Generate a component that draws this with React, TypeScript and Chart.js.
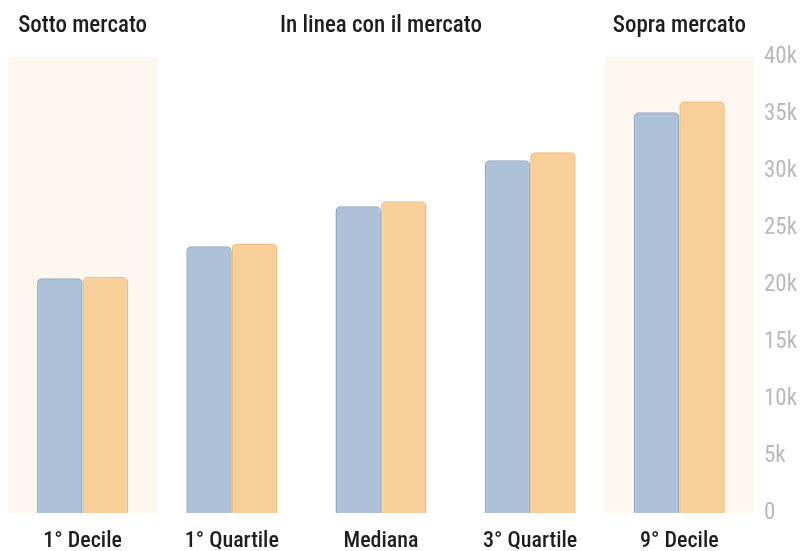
import React, { useEffect, useRef } from "react";
import { Chart, registerables } from "chart.js";

Chart.register(...registerables);

const categories = ["1° Decile", "1° Quartile", "Mediana", "3° Quartile", "9° Decile"];
const seriesA = [20600, 23400, 26900, 30950, 35150];
const seriesB = [20700, 23650, 27350, 31650, 36100];
const yTicks = [0, 5000, 10000, 15000, 20000, 25000, 30000, 35000, 40000];
const groupLabels = ["Sotto mercato", "In linea con il mercato", "Sopra mercato"];
const groupStart = [0, 1, 4];
const groupEnd = [0, 3, 4];
const groupShaded = [true, false, true];

const FONT = "'Roboto Condensed', 'Liberation Sans Narrow', 'Arial Narrow', Roboto, sans-serif";

const groupsPlugin = {
  id: "groups",
  beforeDatasetsDraw(chart: any) {
    const { ctx, chartArea, scales } = chart;
    const x = scales.x;
    const half = (x.getPixelForValue(1) - x.getPixelForValue(0)) / 2;
    ctx.save();
    groupLabels.forEach((_, i) => {
      if (!groupShaded[i]) return;
      const l = x.getPixelForValue(groupStart[i]) - half;
      const r = x.getPixelForValue(groupEnd[i]) + half;
      ctx.fillStyle = "#fef7ef";
      ctx.fillRect(l, chartArea.top, r - l, chartArea.bottom - chartArea.top);
    });
    ctx.restore();
  },
  afterDraw(chart: any) {
    const { ctx, scales } = chart;
    const x = scales.x;
    ctx.save();
    ctx.fillStyle = "#1e1e1e";
    ctx.font = `500 23px ${FONT}`;
    ctx.textAlign = "center";
    ctx.textBaseline = "middle";
    groupLabels.forEach((label, i) => {
      const cx = (x.getPixelForValue(groupStart[i]) + x.getPixelForValue(groupEnd[i])) / 2;
      ctx.fillText(label, cx, 26);
    });
    ctx.restore();
  },
};

export default function App() {
  const ref = useRef<HTMLCanvasElement>(null);
  useEffect(() => {
    if (!ref.current) return;
    const chart = new Chart(ref.current, {
      type: "bar",
      data: {
        labels: categories,
        datasets: [
          {
            data: seriesA,
            backgroundColor: "#adc1d8",
            borderColor: "#93a7bf",
            borderWidth: 1.5,
            borderRadius: { topLeft: 5, topRight: 5, bottomLeft: 0, bottomRight: 0 },
            borderSkipped: "bottom",
          },
          {
            data: seriesB,
            backgroundColor: "#f8cf99",
            borderColor: "#ebbd82",
            borderWidth: 1.5,
            borderRadius: { topLeft: 5, topRight: 5, bottomLeft: 0, bottomRight: 0 },
            borderSkipped: "bottom",
          },
        ],
      },
      options: {
        animation: false,
        responsive: true,
        maintainAspectRatio: false,
        layout: { padding: { top: 57, right: 0, left: 8, bottom: 0 } },
        plugins: { legend: { display: false }, tooltip: { enabled: false } },
        datasets: { bar: { categoryPercentage: 0.61, barPercentage: 1 } },
        scales: {
          x: {
            grid: { display: false, drawTicks: false },
            border: { display: false },
            afterFit(axis: any) {
              axis.height = 38;
            },
            ticks: {
              color: "#1e1e1e",
              font: { family: FONT, size: 22, weight: "500", lineHeight: 1 },
              padding: 17,
              maxRotation: 0,
            },
          },
          y: {
            position: "right",
            min: 0,
            max: 40000,
            grid: { display: false, drawTicks: false },
            border: { display: false },
            afterBuildTicks(axis: any) {
              axis.ticks = yTicks.map((v) => ({ value: v }));
            },
            ticks: {
              color: "#b9b9b9",
              font: { family: FONT, size: 23 },
              padding: 10,
              callback: (v: any) => (Number(v) === 0 ? "0" : `${Number(v) / 1000}k`),
            },
          },
        },
      },
      plugins: [groupsPlugin],
    });
    return () => chart.destroy();
  }, []);
  return (
    <div style={{ position: "fixed", left: 0, top: 0, width: 807, height: 551 }}>
      <canvas ref={ref} />
    </div>
  );
}
